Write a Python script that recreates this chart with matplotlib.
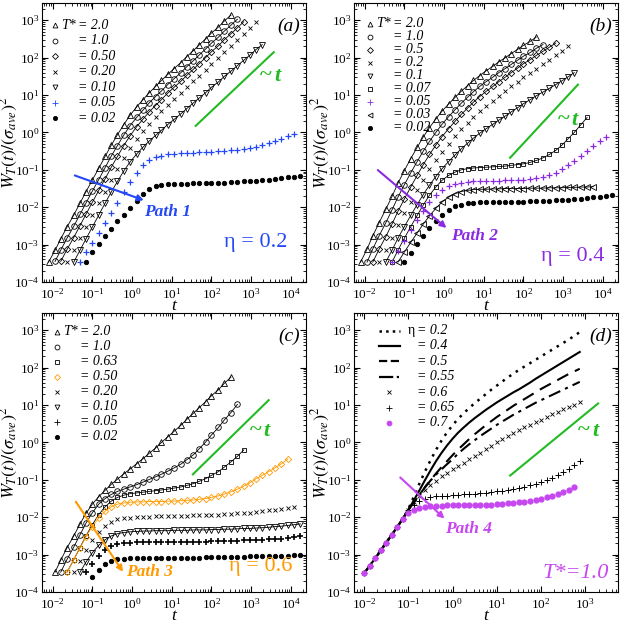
import numpy as np
import matplotlib.pyplot as plt
from matplotlib.ticker import LogLocator, NullFormatter

plt.rcParams['font.family'] = ['Liberation Serif', 'DejaVu Serif']
plt.rcParams['mathtext.fontset'] = 'stix'

BLUE = '#2448f5'
PURPLE = '#8a2be2'
ORANGE = '#ff9a00'
MAGENTA = '#c646f0'
GREEN = '#22bb22'

# time grid shared by panels (a)-(c)
t_abc = [0.0079, 0.0115, 0.016, 0.023, 0.034, 0.049, 0.069, 0.1, 0.145, 0.21,
         0.3, 0.43, 0.62, 0.89, 1.3, 1.9, 2.7, 3.9, 5.5, 7.9,
         11.5, 17, 24, 35, 49, 71, 100, 150, 210, 310,
         450, 650, 930, 1300, 1900, 2750, 4000, 5750, 8300, 12000,
         17400, 25000]
# time grid of panel (d)
t_d = [0.01, 0.0133, 0.0178, 0.0237, 0.0316, 0.0422, 0.0562, 0.075, 0.1, 0.133,
       0.178, 0.237, 0.316, 0.422, 0.562, 0.75, 1, 1.33, 1.78, 2.37,
       3.16, 4.22, 5.62, 7.5, 10, 13.3, 17.8, 23.7, 31.6, 42.2,
       56.2, 75, 100, 133, 178, 237, 316, 422, 562, 750]

# ---- panel (a), eta = 0.2 : start index in t_abc, log10 W
a_T20 = (0, [-3.47, -3.15, -2.85, -2.53, -2.21, -1.89, -1.59, -1.27, -0.96, -0.64,
             -0.34, -0.06, 0.21, 0.46, 0.68, 0.88, 1.06, 1.23, 1.39, 1.55,
             1.71, 1.87, 2.03, 2.19, 2.34, 2.5, 2.66, 2.82, 2.98, 3.14])
a_T10 = (1, [-3.45, -3.15, -2.83, -2.51, -2.19, -1.89, -1.57, -1.26, -0.94, -0.63,
             -0.35, -0.07, 0.18, 0.4, 0.6, 0.79, 0.96, 1.11, 1.28, 1.44,
             1.6, 1.76, 1.92, 2.07, 2.23, 2.39, 2.55, 2.71, 2.87, 3.03])
a_T05 = (2, [-3.45, -3.13, -2.81, -2.49, -2.19, -1.87, -1.55, -1.24, -0.93, -0.64,
             -0.35, -0.09, 0.15, 0.36, 0.55, 0.72, 0.88, 1.05, 1.21, 1.37,
             1.53, 1.69, 1.84, 2.0, 2.16, 2.32, 2.48, 2.64, 2.8, 2.96])
a_T02 = (3, [-3.47, -3.15, -2.83, -2.53, -2.21, -1.89, -1.58, -1.27, -0.98, -0.69,
             -0.42, -0.18, 0.03, 0.23, 0.4, 0.56, 0.73, 0.89, 1.05, 1.21,
             1.37, 1.52, 1.68, 1.84, 2.0, 2.16, 2.32, 2.48, 2.64, 2.8, 2.95])
a_T01 = (4, [-3.47, -3.15, -2.85, -2.53, -2.21, -1.89, -1.59, -1.31, -1.03, -0.79,
             -0.58, -0.39, -0.23, -0.08, 0.06, 0.21, 0.35, 0.5, 0.64, 0.79,
             0.92, 1.06, 1.21, 1.35, 1.5, 1.64, 1.79, 1.93, 2.07, 2.21, 2.35])
a_T005 = (5, [-3.47, -3.2, -2.95, -2.68, -2.42, -2.15, -1.88, -1.6, -1.33, -1.08,
              -0.88, -0.74, -0.66, -0.62, -0.59, -0.57, -0.56, -0.55, -0.54, -0.53,
              -0.52, -0.51, -0.5, -0.49, -0.48, -0.46, -0.44, -0.41, -0.38, -0.34,
              -0.29, -0.23, -0.17, -0.1, -0.03])
a_T002 = (6, [-3.47, -3.2, -2.98, -2.78, -2.58, -2.38, -2.2, -2.02, -1.84, -1.65,
              -1.5, -1.43, -1.4, -1.38, -1.38, -1.37, -1.37, -1.36, -1.36, -1.35,
              -1.35, -1.34, -1.34, -1.33, -1.32, -1.31, -1.3, -1.29, -1.27, -1.26,
              -1.24, -1.22, -1.2, -1.18, -1.16])

# ---- panel (b), eta = 0.4
b_T20 = (0, [-3.47, -3.12, -2.77, -2.42, -2.06, -1.71, -1.36, -1.02, -0.7, -0.4,
             -0.12, 0.13, 0.36, 0.57, 0.76, 0.94, 1.1, 1.25, 1.39, 1.52,
             1.65, 1.77, 1.89, 2.0, 2.11, 2.22, 2.33, 2.44, 2.55])
b_T10 = (1, [-3.47, -3.12, -2.77, -2.42, -2.07, -1.73, -1.4, -1.08, -0.78, -0.5,
             -0.24, 0.0, 0.22, 0.42, 0.61, 0.78, 0.94, 1.09, 1.23, 1.36,
             1.48, 1.6, 1.71, 1.82, 1.93, 2.04, 2.14, 2.25, 2.35])
b_T05 = (2, [-3.47, -3.13, -2.79, -2.45, -2.11, -1.78, -1.46, -1.15, -0.86, -0.59,
             -0.34, -0.11, 0.1, 0.3, 0.48, 0.65, 0.81, 0.96, 1.1, 1.23,
             1.36, 1.48, 1.6, 1.72, 1.84, 1.95, 2.06, 2.17, 2.28, 2.39])
b_T02 = (3, [-3.47, -3.14, -2.81, -2.48, -2.16, -1.85, -1.55, -1.26, -0.99, -0.74,
             -0.51, -0.3, -0.1, 0.08, 0.25, 0.41, 0.56, 0.7, 0.84, 0.97,
             1.1, 1.23, 1.35, 1.47, 1.59, 1.71, 1.83, 1.95, 2.07, 2.19, 2.3])
b_T01 = (4, [-3.47, -3.15, -2.83, -2.52, -2.22, -1.93, -1.66, -1.41, -1.18, -0.97,
             -0.78, -0.6, -0.44, -0.29, -0.15, -0.02, 0.1, 0.22, 0.33, 0.44,
             0.55, 0.66, 0.77, 0.88, 0.98, 1.08, 1.18, 1.28, 1.38, 1.48, 1.6])
b_T007 = (5, [-3.47, -3.15, -2.83, -2.52, -2.22, -1.94, -1.68, -1.46, -1.28, -1.15,
              -1.06, -1.0, -0.97, -0.95, -0.94, -0.93, -0.92, -0.91, -0.9, -0.88,
              -0.86, -0.84, -0.8, -0.75, -0.68, -0.59, -0.48, -0.34, -0.18, 0.0, 0.2, 0.4])
b_T005 = (5, [-3.47, -3.18, -2.9, -2.62, -2.35, -2.1, -1.87, -1.68, -1.53, -1.43,
              -1.37, -1.34, -1.32, -1.31, -1.3, -1.3, -1.29, -1.29, -1.28, -1.28,
              -1.27, -1.26, -1.25, -1.23, -1.2, -1.15, -1.08, -0.99, -0.88, -0.76,
              -0.63, -0.5, -0.37, -0.24, -0.12])
b_T003 = (6, [-3.47, -3.2, -2.94, -2.69, -2.45, -2.23, -2.03, -1.86, -1.73, -1.64,
              -1.58, -1.55, -1.53, -1.52, -1.52, -1.51, -1.51, -1.5, -1.5, -1.5,
              -1.5, -1.49, -1.49, -1.49, -1.48, -1.48, -1.48, -1.47, -1.47, -1.46,
              -1.46, -1.45])
b_T002 = (7, [-3.47, -3.22, -2.98, -2.76, -2.55, -2.36, -2.2, -2.07, -1.98, -1.93,
              -1.9, -1.88, -1.87, -1.87, -1.86, -1.86, -1.86, -1.85, -1.85, -1.85,
              -1.84, -1.84, -1.83, -1.83, -1.82, -1.81, -1.8, -1.79, -1.78, -1.76,
              -1.74, -1.72, -1.7, -1.68])

# ---- panel (c), eta = 0.6
c_T20 = (1, [-3.47, -3.15, -2.82, -2.5, -2.18, -1.9, -1.65, -1.45, -1.28, -1.12,
             -0.98, -0.84, -0.71, -0.57, -0.43, -0.29, -0.15, 0.0, 0.15, 0.3,
             0.46, 0.62, 0.78, 0.93, 1.09, 1.25, 1.41, 1.58, 1.75])
c_T10 = (2, [-3.47, -3.13, -2.8, -2.47, -2.16, -1.88, -1.65, -1.5, -1.39, -1.31,
             -1.25, -1.19, -1.13, -1.06, -0.99, -0.92, -0.85, -0.77, -0.68, -0.58,
             -0.46, -0.33, -0.17, 0.01, 0.2, 0.4, 0.6, 0.8, 1.02])
c_T063 = (3, [-3.47, -3.14, -2.81, -2.5, -2.2, -1.93, -1.72, -1.57, -1.47, -1.41,
              -1.37, -1.35, -1.33, -1.31, -1.29, -1.27, -1.25, -1.22, -1.19, -1.15,
              -1.1, -1.04, -0.97, -0.88, -0.78, -0.66, -0.52, -0.37, -0.2])
c_T05 = (3, [-3.47, -3.14, -2.82, -2.52, -2.25, -2.02, -1.84, -1.72, -1.65, -1.62,
             -1.6, -1.59, -1.59, -1.58, -1.58, -1.58, -1.57, -1.57, -1.56, -1.55,
             -1.54, -1.52, -1.5, -1.47, -1.43, -1.38, -1.32, -1.25, -1.17, -1.08,
             -0.98, -0.88, -0.78, -0.68, -0.57, -0.45])
c_T02 = (4, [-3.47, -3.17, -2.88, -2.62, -2.4, -2.23, -2.12, -2.06, -2.03, -2.01,
             -2.0, -1.99, -1.99, -1.98, -1.98, -1.97, -1.97, -1.96, -1.96, -1.95,
             -1.95, -1.94, -1.94, -1.93, -1.92, -1.91, -1.9, -1.89, -1.88, -1.86,
             -1.84, -1.82, -1.8, -1.78, -1.76, -1.74])
c_T01 = (5, [-3.47, -3.2, -2.95, -2.75, -2.6, -2.5, -2.44, -2.41, -2.39, -2.38,
             -2.37, -2.37, -2.36, -2.36, -2.36, -2.35, -2.35, -2.35, -2.34, -2.34,
             -2.34, -2.33, -2.33, -2.32, -2.32, -2.31, -2.3, -2.3, -2.29, -2.28,
             -2.27, -2.25, -2.24, -2.22, -2.2, -2.18])
c_T005 = (6, [-3.47, -3.25, -3.05, -2.89, -2.78, -2.72, -2.69, -2.68, -2.67, -2.67,
              -2.67, -2.66, -2.66, -2.66, -2.66, -2.66, -2.65, -2.65, -2.65, -2.65,
              -2.64, -2.64, -2.64, -2.63, -2.63, -2.62, -2.62, -2.61, -2.6, -2.59,
              -2.58, -2.57, -2.55, -2.53, -2.51])
c_T002 = (7, [-3.6, -3.4, -3.25, -3.17, -3.13, -3.11, -3.1, -3.1, -3.1, -3.09,
              -3.09, -3.09, -3.09, -3.09, -3.08, -3.08, -3.08, -3.08, -3.07, -3.07,
              -3.07, -3.07, -3.06, -3.06, -3.06, -3.05, -3.05, -3.05, -3.04, -3.04,
              -3.03, -3.03, -3.02, -3.01])

# ---- panel (d), T* = 1.0 : log10 W on t_d
early_d = [-3.5, -3.3, -3.1, -2.89, -2.68, -2.47, -2.26, -2.04]
d_e020 = early_d + [-1.78, -1.45, -1.1, -0.78, -0.48, -0.2, 0.05, 0.27, 0.46, 0.63,
                    0.78, 0.92, 1.05, 1.17, 1.29, 1.41, 1.52, 1.63, 1.74, 1.84,
                    1.94, 2.03, 2.12, 2.21, 2.3, 2.39, 2.48, 2.57, 2.66, 2.75,
                    2.85, 2.95]
d_e040 = early_d + [-1.8, -1.55, -1.28, -1.01, -0.75, -0.5, -0.28, -0.08, 0.1, 0.26,
                    0.4, 0.53, 0.65, 0.76, 0.87, 0.97, 1.07, 1.16, 1.25, 1.34,
                    1.42, 1.51, 1.6, 1.7, 1.79, 1.88, 1.97, 2.06, 2.15, 2.24,
                    2.33, 2.42]
d_e050 = early_d + [-1.8, -1.6, -1.4, -1.2, -1.01, -0.83, -0.66, -0.5, -0.34, -0.19,
                    -0.05, 0.09, 0.22, 0.34, 0.46, 0.57, 0.68, 0.78, 0.88, 0.98,
                    1.07, 1.16, 1.25, 1.34, 1.43, 1.51, 1.59, 1.67, 1.75, 1.83,
                    1.9, 1.97]
d_e055 = early_d + [-1.8, -1.6, -1.4, -1.2, -1.02, -0.86, -0.72, -0.58, -0.45, -0.3,
                    -0.17, -0.05, 0.06, 0.17, 0.27, 0.37, 0.47, 0.56, 0.65, 0.74,
                    0.82, 0.9, 0.98, 1.06, 1.13, 1.2, 1.27, 1.34, 1.41, 1.48,
                    1.55, 1.62]
d_e060 = early_d + [-1.8, -1.6, -1.42, -1.27, -1.14, -1.02, -0.91, -0.81, -0.72, -0.63,
                    -0.54, -0.45, -0.36, -0.27, -0.18, -0.09, 0.0, 0.08, 0.16, 0.24,
                    0.32, 0.4, 0.47, 0.54, 0.61, 0.68, 0.75, 0.82, 0.89, 0.95,
                    1.01, 1.07]
d_e065 = early_d + [-1.8, -1.66, -1.56, -1.5, -1.46, -1.44, -1.43, -1.42, -1.41, -1.4,
                    -1.39, -1.38, -1.37, -1.36, -1.35, -1.33, -1.31, -1.29, -1.27, -1.24,
                    -1.21, -1.18, -1.14, -1.1, -1.05, -1.0, -0.94, -0.88, -0.8, -0.7,
                    -0.6, -0.5]
d_e070 = early_d + [-1.9, -1.82, -1.76, -1.72, -1.7, -1.69, -1.69, -1.68, -1.68, -1.68,
                    -1.68, -1.67, -1.67, -1.67, -1.66, -1.66, -1.65, -1.64, -1.63, -1.62,
                    -1.6, -1.58, -1.56, -1.53, -1.5, -1.46, -1.42, -1.37, -1.32, -1.26,
                    -1.2]

# "~t" guide segments (t, W)
guide_a = ([40, 3700], [1.5, 140])
guide_b = ([46, 2350], [0.21, 19])
guide_c = ([34, 2750], [0.14, 13.5])
guide_d = ([20, 1950], [0.13, 11])


def series(ax, grid, spec, marker, color='k', line=True, ms=4.0, mew=0.6,
           filled=False, lcolor='k'):
    start, logw = spec
    t = np.array(grid[start:start + len(logw)])
    w = 10.0 ** np.array(logw)
    ax.plot(t, w, ls='-' if line else 'none', lw=0.6, color=lcolor,
            marker=marker, ms=ms, mew=mew, mec=color,
            mfc=color if filled else 'none', zorder=3)


def setup(ax, xlim):
    ax.set_xscale('log')
    ax.set_yscale('log')
    ax.set_xlim(*xlim)
    ax.set_ylim(1e-4, 2900)
    for axis in (ax.xaxis, ax.yaxis):
        axis.set_major_locator(LogLocator(base=10, numticks=20))
        axis.set_minor_locator(LogLocator(base=10, subs=np.arange(2, 10), numticks=200))
        axis.set_minor_formatter(NullFormatter())
    ax.tick_params(which='both', direction='in', top=True, right=True, labelsize=9.5)
    ax.tick_params(which='major', length=4.5, width=0.8)
    ax.tick_params(which='minor', length=2.3, width=0.6)
    ax.tick_params(axis='y', pad=2)
    ax.set_xlabel('t', fontstyle='italic', fontsize=12.5)
    ax.set_ylabel(r'$W_T(t)/(\sigma_{ave})^2$', fontsize=13)
    ax.xaxis.set_label_coords(0.5, -0.058)
    ax.yaxis.set_label_coords(-0.082, 0.5)


def tilde_t(ax, x_tilde, x_t, y):
    ax.text(x_tilde, y, '~', color=GREEN, fontsize=16, fontweight='bold', ha='center', va='center')
    ax.text(x_t, y, 't', color=GREEN, fontsize=16, fontweight='bold', fontstyle='italic',
            ha='center', va='center')


def legend(ax, rows, xm, xe, y0, dy, head):
    for k, (mk, col, txt, kw) in enumerate(rows):
        y = y0 - k * dy
        if mk in ('-', '--', '-.', ':'):
            ax.plot([xm - 0.04, xm + 0.04], [y, y], ls=mk, color='k', lw=kw.get('lw', 1.6),
                    transform=ax.transAxes)
        else:
            ax.plot([xm], [y], ls='none', marker=mk, ms=kw.get('ms', 3.5), mew=0.6,
                    mec=col, mfc=col if kw.get('filled') else 'none',
                    transform=ax.transAxes)
        ax.text(xe, y, txt, transform=ax.transAxes, fontsize=10, fontstyle='italic',
                va='center', ha='left')
    hx, htxt, hstyle = head
    ax.text(hx, y0, htxt, transform=ax.transAxes, fontsize=10, fontstyle=hstyle,
            va='center', ha='right')


fig = plt.figure(figsize=(6.24, 6.21), dpi=100)
W, H = 0.4231, 0.4493
ax_a = fig.add_axes([0.0673, 0.5459, W, H])
ax_b = fig.add_axes([0.5673, 0.5459, W, H])
ax_c = fig.add_axes([0.0673, 0.0467, W, H])
ax_d = fig.add_axes([0.5673, 0.0467, W, H])

xl_abc = (0.0054, 24000)

# ---------- (a)
ax = ax_a
setup(ax, xl_abc)
series(ax, t_abc, a_T20, '^')
series(ax, t_abc, a_T10, 'o')
series(ax, t_abc, a_T05, 'D', ms=3.2)
series(ax, t_abc, a_T02, 'x', line=False, ms=3.5)
series(ax, t_abc, a_T01, 'v')
series(ax, t_abc, a_T005, '+', color=BLUE, line=False, ms=5, mew=0.9)
series(ax, t_abc, a_T002, 'o', line=False, ms=3.2, filled=True)
ax.plot(*guide_a, color=GREEN, lw=1.5)
tilde_t(ax, 2350, 4700, 33)
ax.annotate('', xy=(2.3, 0.0145), xytext=(0.031, 0.075),
            arrowprops=dict(arrowstyle='-|>', color=BLUE, lw=1.5, mutation_scale=9))
ax.text(8, 0.0075, 'Path 1', color=BLUE, fontsize=12.5, fontweight='bold', fontstyle='italic',
        ha='center', va='center')
ax.text(0.81, 0.14, 'η = 0.2', color=BLUE, fontsize=16, transform=ax.transAxes, ha='center', va='center')
ax.text(0.935, 0.918, '(a)', fontsize=14, fontstyle='italic', transform=ax.transAxes, ha='center', va='center')
legend(ax, [('^', 'k', '= 2.0', {}), ('o', 'k', '= 1.0', {}), ('D', 'k', '= 0.50', {'ms': 3}),
            ('x', 'k', '= 0.20', {}), ('v', 'k', '= 0.10', {}), ('+', BLUE, '= 0.05', {'ms': 5}),
            ('o', 'k', '= 0.02', {'filled': True, 'ms': 3})],
       0.05, 0.137, 0.921, 0.0557, (0.128, 'T*', 'italic'))

# ---------- (b)
ax = ax_b
setup(ax, xl_abc)
series(ax, t_abc, b_T20, '^')
series(ax, t_abc, b_T10, 'o')
series(ax, t_abc, b_T05, 'D', ms=3.2)
series(ax, t_abc, b_T02, 'x', line=False, ms=3.5)
series(ax, t_abc, b_T01, 'v')
series(ax, t_abc, b_T007, 's', ms=3.5)
series(ax, t_abc, b_T005, '+', color=PURPLE, line=False, ms=5, mew=0.9)
series(ax, t_abc, b_T003, '<')
series(ax, t_abc, b_T002, 'o', line=False, ms=3.2, filled=True)
ax.plot(*guide_b, color=GREEN, lw=1.5)
tilde_t(ax, 1000, 1950, 2.2)
ax.annotate('', xy=(1.3, 0.0025), xytext=(0.019, 0.11),
            arrowprops=dict(arrowstyle='-|>', color=PURPLE, lw=1.5, mutation_scale=9))
ax.text(6, 0.0017, 'Path 2', color=PURPLE, fontsize=12.5, fontweight='bold', fontstyle='italic',
        ha='center', va='center')
ax.text(0.83, 0.09, 'η = 0.4', color=PURPLE, fontsize=16, transform=ax.transAxes, ha='center', va='center')
ax.text(0.935, 0.918, '(b)', fontsize=14, fontstyle='italic', transform=ax.transAxes, ha='center', va='center')
legend(ax, [('^', 'k', '= 2.0', {}), ('o', 'k', '= 1.0', {}), ('D', 'k', '= 0.5', {'ms': 3}),
            ('x', 'k', '= 0.2', {}), ('v', 'k', '= 0.1', {}), ('s', 'k', '= 0.07', {}),
            ('+', PURPLE, '= 0.05', {'ms': 5}), ('<', 'k', '= 0.03', {}),
            ('o', 'k', '= 0.02', {'filled': True, 'ms': 3})],
       0.06, 0.147, 0.925, 0.0466, (0.138, 'T*', 'italic'))

# ---------- (c)
ax = ax_c
setup(ax, xl_abc)
series(ax, t_abc, c_T20, '^')
series(ax, t_abc, c_T10, 'o')
series(ax, t_abc, c_T063, 's', ms=3.5)
series(ax, t_abc, c_T05, 'D', color=ORANGE, lcolor=ORANGE, ms=3.2)
series(ax, t_abc, c_T02, 'x', line=False, ms=3.5)
series(ax, t_abc, c_T01, 'v')
series(ax, t_abc, c_T005, '+', line=False, ms=5, mew=1.2)
series(ax, t_abc, c_T002, 'o', line=False, ms=3.2, filled=True)
ax.plot(*guide_c, color=GREEN, lw=1.5)
tilde_t(ax, 1300, 2400, 2.0)
ax.annotate('', xy=(0.65, 0.0003), xytext=(0.035, 0.03),
            arrowprops=dict(arrowstyle='-|>', color=ORANGE, lw=1.5, mutation_scale=9))
ax.text(2.7, 0.00034, 'Path 3', color=ORANGE, fontsize=12.5, fontweight='bold', fontstyle='italic',
        ha='center', va='center')
ax.text(0.83, 0.09, 'η = 0.6', color=ORANGE, fontsize=16, transform=ax.transAxes, ha='center', va='center')
ax.text(0.935, 0.918, '(c)', fontsize=14, fontstyle='italic', transform=ax.transAxes, ha='center', va='center')
legend(ax, [('^', 'k', '= 2.0', {}), ('o', 'k', '= 1.0', {}), ('s', 'k', '= 0.63', {}),
            ('D', ORANGE, '= 0.50', {'ms': 3}), ('x', 'k', '= 0.20', {}), ('v', 'k', '= 0.10', {}),
            ('+', 'k', '= 0.05', {'ms': 5}), ('o', 'k', '= 0.02', {'filled': True, 'ms': 3})],
       0.058, 0.144, 0.933, 0.0538, (0.135, 'T*', 'italic'))

# ---------- (d)
ax = ax_d
setup(ax, (0.0059, 5500))
n = len
ax.plot(t_d[:n(d_e020)], 10.0 ** np.array(d_e020), ls=(0, (1, 2.2)), color='k', lw=1.8)
ax.plot(t_d[:n(d_e040)], 10.0 ** np.array(d_e040), ls='-', color='k', lw=1.5)
ax.plot(t_d[:n(d_e050)], 10.0 ** np.array(d_e050), ls=(0, (6, 3.5)), color='k', lw=1.5)
ax.plot(t_d[:n(d_e055)], 10.0 ** np.array(d_e055), ls=(0, (6, 2.5, 1.5, 2.5)), color='k', lw=1.5)
ax.plot(t_d[:n(d_e060)], 10.0 ** np.array(d_e060), ls='none', marker='x', ms=3.2, mew=0.6, color='k')
ax.plot(t_d[:n(d_e065)], 10.0 ** np.array(d_e065), ls='none', marker='+', ms=4.5, mew=0.7, color='k')
ax.plot(t_d[:n(d_e070)], 10.0 ** np.array(d_e070), ls='none', marker='o', ms=3.5, color=MAGENTA)
ax.plot(*guide_d, color=GREEN, lw=1.5)
tilde_t(ax, 900, 1700, 2.0)
ax.annotate('', xy=(0.73, 0.0082), xytext=(0.059, 0.13),
            arrowprops=dict(arrowstyle='-|>', color=MAGENTA, lw=1.5, mutation_scale=9))
ax.text(2.3, 0.0048, 'Path 4', color=MAGENTA, fontsize=12.5, fontweight='bold', fontstyle='italic',
        ha='center', va='center')
ax.text(0.84, 0.068, 'T*=1.0', color=MAGENTA, fontsize=16, fontstyle='italic', transform=ax.transAxes,
        ha='center', va='center')
ax.text(0.935, 0.918, '(d)', fontsize=14, fontstyle='italic', transform=ax.transAxes, ha='center', va='center')
legend(ax, [(':', 'k', '= 0.2', {'lw': 1.8}), ('-', 'k', '= 0.4', {}), ('--', 'k', '= 0.5', {}),
            ('-.', 'k', '= 0.55', {}), ('x', 'k', '= 0.6', {}), ('+', 'k', '= 0.65', {'ms': 5}),
            ('o', MAGENTA, '= 0.7', {'filled': True, 'ms': 3.5})],
       0.133, 0.24, 0.937, 0.0552, (0.232, 'η', 'normal'))

fig.savefig('out.png', dpi=100)
